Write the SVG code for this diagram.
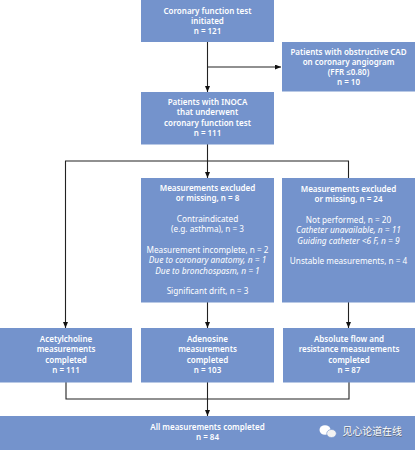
<svg xmlns="http://www.w3.org/2000/svg" width="415" height="450" viewBox="0 0 415 450">
<style>
.b{fill:#7493cc}
.t{font-family:"Noto Sans","Open Sans",sans-serif;font-size:8.2px;fill:#fff;text-anchor:middle}
.h{font-weight:600;font-size:8px}
.i{font-style:italic;font-size:8.4px}
.c{fill:none;stroke:#222;stroke-width:1.1}
</style>
<defs>
<marker id="a" viewBox="0 0 6 5" refX="6" refY="2.500" markerWidth="6" markerHeight="5" markerUnits="userSpaceOnUse" orient="auto"><path d="M0 0L6 2.500L0 5Z" fill="#111"/></marker>
</defs>
<rect width="415" height="450" fill="#fff"/>
<g id="connectors">
<path class="c" d="M207.500 42V92" marker-end="url(#a)"/>
<path class="c" d="M207.500 67H281" marker-end="url(#a)"/>
<path class="c" d="M207.500 144V178" marker-end="url(#a)"/>
<path class="c" d="M348.500 178V161H65.500V328" marker-end="url(#a)"/>
<path class="c" d="M207.500 302V328" marker-end="url(#a)"/>
<path class="c" d="M348.500 302V328" marker-end="url(#a)"/>
<path class="c" d="M66 382V399H349V382"/>
<path class="c" d="M207.500 382V416" marker-end="url(#a)"/>
</g>
<g id="n1"><rect class="b" x="141" y="0" width="133" height="42"/><text class="t h" x="207.500" y="13.800">Coronary function test</text><text class="t h" x="207.500" y="24.100">initiated</text><text class="t h" x="207.500" y="34.400">n = 121</text></g>
<g id="n2"><rect class="b" x="282" y="42" width="133" height="49.500"/><text class="t h" x="348.500" y="54.500">Patients with obstructive CAD</text><text class="t h" x="348.500" y="64.800">on coronary angiogram</text><text class="t h" x="348.500" y="75.100">(FFR ≤0.80)</text><text class="t h" x="348.500" y="85.400">n = 10</text></g>
<g id="n3"><rect class="b" x="141" y="92" width="133" height="52.500"/><text class="t h" x="207.500" y="105">Patients with INOCA</text><text class="t h" x="207.500" y="115.300">that underwent</text><text class="t h" x="207.500" y="125.600">coronary function test</text><text class="t h" x="207.500" y="135.900">n = 111</text></g>
<g id="n4"><rect class="b" x="141" y="178" width="133" height="124.500"/><text class="t h" x="207.500" y="191">Measurements excluded</text><text class="t h" x="207.500" y="201.300">or missing, n = 8</text><text class="t" x="207.500" y="222">Contraindicated</text><text class="t" x="207.500" y="232.300">(e.g. asthma), n = 3</text><text class="t" x="207.500" y="253">Measurement incomplete, n = 2</text><text class="t i" x="207.500" y="263.300">Due to coronary anatomy, n = 1</text><text class="t i" x="207.500" y="273.600">Due to bronchospasm, n = 1</text><text class="t" x="207.500" y="294.300">Significant drift, n = 3</text></g>
<g id="n5"><rect class="b" x="282" y="178" width="133" height="124.500"/><text class="t h" x="348.500" y="192">Measurements excluded</text><text class="t h" x="348.500" y="202.300">or missing, n = 24</text><text class="t" x="348.500" y="223">Not performed, n = 20</text><text class="t i" x="348.500" y="233.300">Catheter unavailable, n = 11</text><text class="t i" x="348.500" y="243.600">Guiding catheter &lt;6 F, n = 9</text><text class="t" x="348.500" y="264.300">Unstable measurements, n = 4</text></g>
<g id="n6"><rect class="b" x="0" y="328" width="132" height="54.500"/><text class="t h" x="66" y="342">Acetylcholine</text><text class="t h" x="66" y="352.300">measurements</text><text class="t h" x="66" y="362.600">completed</text><text class="t h" x="66" y="372.900">n = 111</text></g>
<g id="n7"><rect class="b" x="141" y="328" width="133" height="54.500"/><text class="t h" x="207.500" y="342">Adenosine</text><text class="t h" x="207.500" y="352.300">measurements</text><text class="t h" x="207.500" y="362.600">completed</text><text class="t h" x="207.500" y="372.900">n = 103</text></g>
<g id="n8"><rect class="b" x="283" y="328" width="132" height="54.500"/><text class="t h" x="349" y="342">Absolute flow and</text><text class="t h" x="349" y="352.300">resistance measurements</text><text class="t h" x="349" y="362.600">completed</text><text class="t h" x="349" y="372.900">n = 87</text></g>
<g id="n9"><rect class="b" x="0" y="416" width="415" height="34"/><text class="t h" x="207.500" y="430">All measurements completed</text><text class="t h" x="207.500" y="440.300">n = 84</text>
<ellipse cx="325" cy="430" rx="5.500" ry="4.800" fill="#fff"/><ellipse cx="331.500" cy="433.500" rx="4.800" ry="4" fill="#f2f2f2" stroke="#7493cc" stroke-width=".6"/>
<text x="342.500" y="435" font-family="'Noto Sans CJK SC',sans-serif" font-size="9.900" fill="#555" opacity=".7" transform="translate(.6 .6)">见心论道在线</text>
<text x="342.500" y="435" font-family="'Noto Sans CJK SC',sans-serif" font-size="9.900" fill="#fff">见心论道在线</text></g>
</svg>
